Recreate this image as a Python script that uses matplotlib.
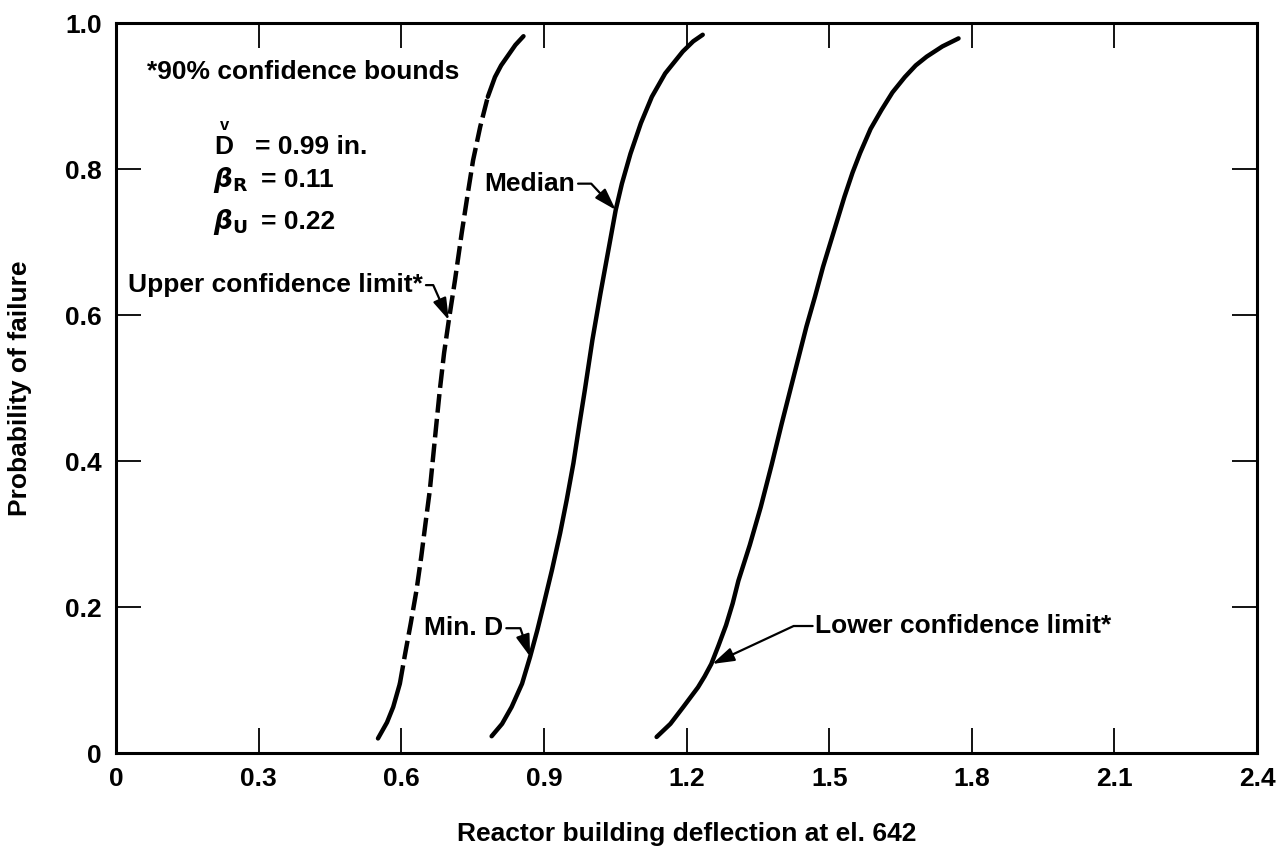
import matplotlib
matplotlib.use('Agg')
import matplotlib.pyplot as plt
import numpy as np

# fragility curves (deflection in., probability)
upper_x = [0.551, 0.570, 0.583, 0.597, 0.607, 0.620, 0.632, 0.642, 0.651, 0.660, 0.667, 0.674,
           0.681, 0.690, 0.700, 0.713, 0.727, 0.740, 0.751, 0.766, 0.782, 0.797, 0.810, 0.825,
           0.840, 0.857]
upper_p = [0.020, 0.042, 0.063, 0.095, 0.132, 0.178, 0.223, 0.269, 0.315, 0.360, 0.406, 0.452,
           0.497, 0.548, 0.593, 0.648, 0.712, 0.767, 0.812, 0.858, 0.899, 0.926, 0.942, 0.956,
           0.970, 0.982]
# part of the upper curve drawn dashed
upper_dash_from = 0.095
upper_dash_to = 0.899

median_x = [0.790, 0.812, 0.832, 0.854, 0.871, 0.886, 0.900, 0.917, 0.934, 0.948, 0.962, 0.975,
            0.986, 1.002, 1.019, 1.037, 1.051, 1.064, 1.082, 1.104, 1.127, 1.155, 1.192, 1.214,
            1.234]
median_p = [0.023, 0.040, 0.063, 0.095, 0.132, 0.168, 0.205, 0.251, 0.301, 0.347, 0.397, 0.452,
            0.497, 0.566, 0.630, 0.694, 0.744, 0.780, 0.821, 0.863, 0.899, 0.931, 0.961, 0.975,
            0.984]

lower_x = [1.137, 1.166, 1.193, 1.224, 1.238, 1.252, 1.267, 1.283, 1.297, 1.309, 1.333, 1.356,
           1.379, 1.400, 1.425, 1.452, 1.470, 1.487, 1.510, 1.532, 1.549, 1.565, 1.587, 1.610,
           1.633, 1.659, 1.682, 1.705, 1.738, 1.772]
lower_p = [0.022, 0.040, 0.063, 0.090, 0.105, 0.122, 0.147, 0.175, 0.205, 0.236, 0.285, 0.337,
           0.395, 0.451, 0.515, 0.584, 0.625, 0.666, 0.715, 0.762, 0.795, 0.822, 0.855, 0.881,
           0.905, 0.926, 0.942, 0.954, 0.968, 0.979]

x_ticks = [0, 0.3, 0.6, 0.9, 1.2, 1.5, 1.8, 2.1, 2.4]
x_tick_labels = ['0', '0.3', '0.6', '0.9', '1.2', '1.5', '1.8', '2.1', '2.4']
y_ticks = [0, 0.2, 0.4, 0.6, 0.8, 1.0]
y_tick_labels = ['0', '0.2', '0.4', '0.6', '0.8', '1.0']

plt.rcParams['font.family'] = ['Liberation Sans', 'DejaVu Sans']
plt.rcParams['font.weight'] = 'bold'
plt.rcParams['axes.labelweight'] = 'bold'

FS = 19
LW = 3.2

fig = plt.figure(figsize=(12.79, 8.48), dpi=100)
ax = fig.add_axes([0.0907, 0.112, 0.8922, 0.8608])

# curves
ux = np.array(upper_x)
up = np.array(upper_p)
lo = up <= upper_dash_from
mid = (up >= upper_dash_from) & (up <= upper_dash_to)
hi = up >= upper_dash_to
ax.plot(ux[lo], up[lo], color='black', lw=LW, solid_capstyle='round', solid_joinstyle='round')
ax.plot(ux[mid], up[mid], color='black', lw=LW, linestyle=(0, (4.2, 1.4)),
        dash_capstyle='butt', dash_joinstyle='round')
ax.plot(ux[hi], up[hi], color='black', lw=LW, solid_capstyle='round', solid_joinstyle='round')
ax.plot(median_x, median_p, color='black', lw=LW, solid_capstyle='round', solid_joinstyle='round')
ax.plot(lower_x, lower_p, color='black', lw=LW, solid_capstyle='round', solid_joinstyle='round')

ax.set_xlim(0, 2.4)
ax.set_ylim(0, 1.0)
ax.set_xticks(x_ticks)
ax.set_xticklabels(x_tick_labels)
ax.set_yticks(y_ticks)
ax.set_yticklabels(y_tick_labels)
ax.tick_params(direction='in', length=18, width=1.3, top=True, right=True,
               labelsize=FS, pad=10)
for s in ax.spines.values():
    s.set_linewidth(2.2)

ax.set_xlabel('Reactor building deflection at el. 642', fontsize=FS)
ax.xaxis.set_label_coords(0.5, -0.094)
ax.set_ylabel('Probability of failure', fontsize=FS)
ax.yaxis.set_label_coords(-0.074, 0.5)

# parameter block
ax.text(0.065, 0.933, '*90% confidence bounds', fontsize=FS, ha='left', va='center')
ax.text(0.207, 0.830, 'D', fontsize=FS, ha='left', va='center')
ax.text(0.228, 0.860, 'v', fontsize=12, ha='center', va='center')
ax.text(0.292, 0.830, '= 0.99 in.', fontsize=FS, ha='left', va='center')
ax.text(0.203, 0.785, r'$\beta_{\mathbf{R}}$', fontsize=FS, ha='left', va='center')
ax.text(0.305, 0.785, '= 0.11', fontsize=FS, ha='left', va='center')
ax.text(0.203, 0.727, r'$\beta_{\mathbf{U}}$', fontsize=FS, ha='left', va='center')
ax.text(0.305, 0.727, '= 0.22', fontsize=FS, ha='left', va='center')


def leader(label, tip, pos, angle_b, ha):
    rel = (1, 0.5) if ha == 'right' else (0, 0.5)
    ax.annotate(label, xy=tip, xytext=pos, fontsize=FS, ha=ha, va='center',
                arrowprops=dict(arrowstyle='-|>,head_length=0.7,head_width=0.22',
                                color='black', lw=1.6, shrinkA=0, shrinkB=0,
                                relpos=rel,
                                connectionstyle='angle,angleA=0,angleB=%d,rad=0' % angle_b))


leader('Median', (1.051, 0.744), (0.966, 0.780), 133, 'right')
leader('Upper confidence limit*', (0.700, 0.593), (0.646, 0.641), 114, 'right')
leader('Min. D', (0.871, 0.132), (0.815, 0.171), 109, 'right')
leader('Lower confidence limit*', (1.254, 0.122), (1.471, 0.174), 25, 'left')

fig.savefig('out.png', dpi=100)
